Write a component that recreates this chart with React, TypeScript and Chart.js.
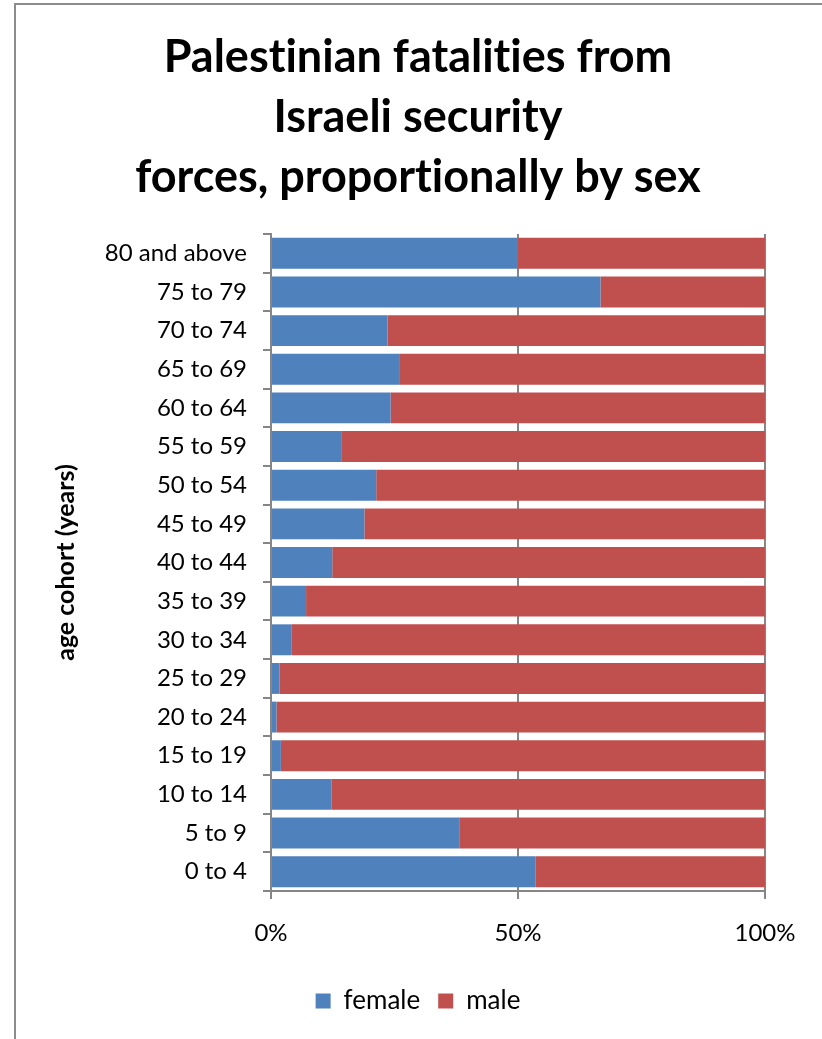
import React, { useEffect, useRef } from "react";
import { Chart, registerables } from "chart.js";

Chart.register(...registerables);

const categories = [
  "80 and above",
  "75 to 79",
  "70 to 74",
  "65 to 69",
  "60 to 64",
  "55 to 59",
  "50 to 54",
  "45 to 49",
  "40 to 44",
  "35 to 39",
  "30 to 34",
  "25 to 29",
  "20 to 24",
  "15 to 19",
  "10 to 14",
  "5 to 9",
  "0 to 4",
];

const femaleShare = [50, 66.7, 23.6, 26.1, 24.2, 14.2, 21.3, 18.9, 12.4, 7.1, 4.1, 1.7, 1.1, 2.0, 12.3, 38.1, 53.5];
const maleShare = [50, 33.3, 76.4, 73.9, 75.8, 85.8, 78.7, 81.1, 87.6, 92.9, 95.9, 98.3, 98.9, 98.0, 87.7, 61.9, 46.5];

const xTickValues = [0, 50, 100];
const xTickLabels = ["0%", "50%", "100%"];

const titleLines = ["Palestinian fatalities from", "Israeli security", "forces, proportionally by sex"];
const yAxisTitle = "age cohort (years)";

const FONT = "Lato, 'Open Sans', sans-serif";
const GRID = "#868686";

const noLigatures = {
  id: "noLigatures",
  beforeDraw(chart: any) {
    try {
      (chart.ctx as any).textRendering = "optimizeSpeed";
    } catch (e) {}
  },
};

export default function App() {
  const canvasRef = useRef<HTMLCanvasElement | null>(null);

  useEffect(() => {
    const canvas = canvasRef.current;
    if (!canvas) return;
    const chart = new Chart(canvas, {
      type: "bar",
      data: {
        labels: categories,
        datasets: [
          {
            label: "female",
            data: femaleShare,
            backgroundColor: "#4F81BD",
            borderWidth: 0,
            categoryPercentage: 1,
            barPercentage: 0.8,
          },
          {
            label: "male",
            data: maleShare,
            backgroundColor: "#C0504D",
            borderWidth: 0,
            categoryPercentage: 1,
            barPercentage: 0.8,
          },
        ],
      },
      plugins: [noLigatures],
      options: {
        indexAxis: "y",
        responsive: false,
        animation: false,
        devicePixelRatio: 1,
        layout: { padding: { left: 71, right: 56, top: 0, bottom: 15 } },
        scales: {
          x: {
            stacked: true,
            min: 0,
            max: 100,
            afterBuildTicks: (axis: any) => {
              axis.ticks = xTickValues.map((v) => ({ value: v }));
            },
            afterFit: (axis: any) => {
              axis.height = 79;
            },
            ticks: {
              color: "#000",
              font: { family: FONT, size: 24 },
              padding: 20,
              maxRotation: 0,
              callback: (v: any) => {
                const i = xTickValues.indexOf(Number(v));
                return i >= 0 ? xTickLabels[i] : "";
              },
            },
            grid: {
              color: GRID,
              lineWidth: 2,
              tickLength: 8,
              drawTicks: true,
            },
            border: { display: true, color: GRID, width: 2 },
          },
          y: {
            stacked: true,
            afterFit: (axis: any) => {
              axis.width = 200;
            },
            ticks: {
              color: "#000",
              font: { family: FONT, size: 24 },
              padding: 16,
            },
            grid: {
              offset: true,
              drawOnChartArea: false,
              drawTicks: true,
              tickLength: 8,
              color: GRID,
              lineWidth: 2,
            },
            border: { display: true, color: GRID, width: 2 },
            title: {
              display: true,
              text: yAxisTitle,
              color: "#000",
              font: { family: FONT, size: 25, weight: "bold" },
              padding: { top: -20, bottom: 0 },
            },
          },
        },
        plugins: {
          title: {
            display: true,
            text: titleLines,
            color: "#000",
            font: { family: FONT, size: 45, weight: "bold", lineHeight: 60 / 45 },
            padding: { top: 27, bottom: 27 },
          },
          legend: {
            display: true,
            position: "bottom",
            labels: {
              color: "#000",
              font: { family: FONT, size: 26 },
              boxWidth: 15,
              boxHeight: 15,
              padding: 18,
            },
          },
          tooltip: { enabled: false },
        },
      },
    });
    return () => chart.destroy();
  }, []);

  return (
    <div
      style={{
        position: "absolute",
        left: 0,
        top: 0,
        width: 822,
        height: 1039,
        overflow: "hidden",
        background: "#fff",
      }}
    >
      <div
        style={{
          position: "absolute",
          left: 14,
          top: 3,
          width: 900,
          height: 1100,
          borderLeft: "2px solid #8c8c8c",
          borderTop: "2px solid #8c8c8c",
        }}
      />
      <canvas
        ref={canvasRef}
        width={821}
        height={1039}
        style={{ position: "absolute", left: 0, top: 0, width: 821, height: 1039 }}
      />
    </div>
  );
}
